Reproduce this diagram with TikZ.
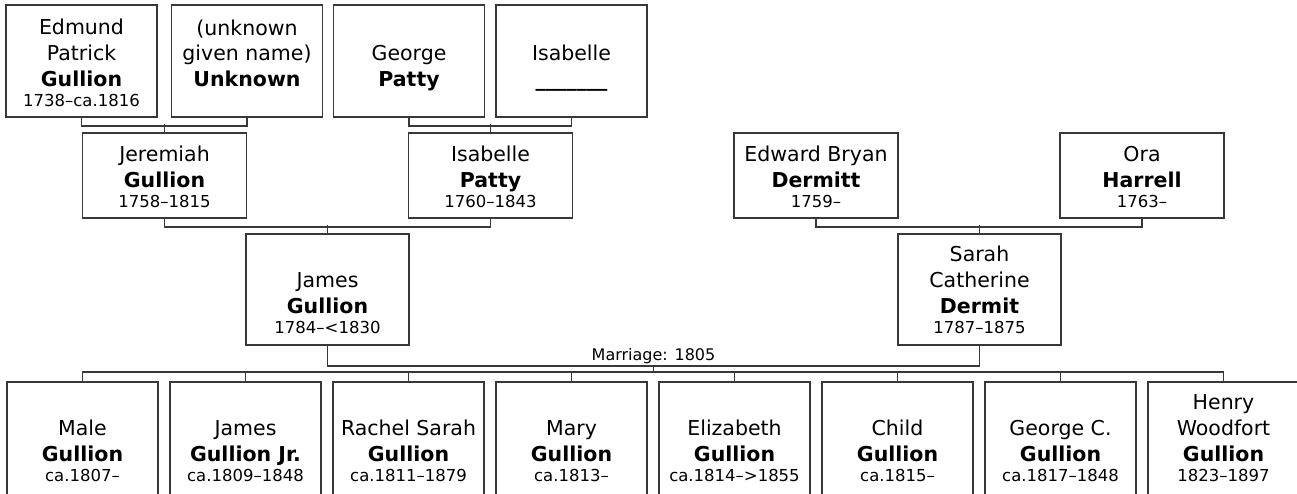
\documentclass[tikz,border=0pt]{standalone}
\usepackage{fontspec}
\setmainfont{DejaVu Sans}
\usetikzlibrary{positioning}
\newcommand{\yrs}[1]{{\fontsize{16.5}{18}\selectfont #1}}

\begin{document}
\begin{tikzpicture}[x=1pt, y=-1pt,
    box/.style={draw=black!78, line width=1.7pt, inner sep=0pt},
    elder/.style={box, minimum width=151pt, minimum height=112pt},
    parent/.style={box, minimum width=164pt, minimum height=85pt},
    couple/.style={box, minimum width=163pt, minimum height=111pt},
    child/.style={box, minimum width=151pt, minimum height=123pt},
    who/.style={align=center, inner sep=0pt, font=\fontsize{20.5}{25.8}\selectfont},
    tie/.style={draw=black!78, line width=1.7pt}]
    \useasboundingbox[fill=white] (0,0) rectangle (1297,493);

    \node[elder] (edmund) at (81.5,61) {};
    \node[who, above=11pt of edmund.south] {Edmund\\Patrick\\\textbf{Gullion}\\[-5.8pt]\yrs{1738--ca.1816}};
    \node[elder] (unknown) at (247,61) {};
    \node[who, above=11pt of unknown.south] {(unknown\\given name)\\\textbf{Unknown}\\[-5.8pt]\yrs{\phantom{1}}};
    \node[elder] (george) at (409,61) {};
    \node[who, above=11pt of george.south] {George\\\textbf{Patty}\\[-5.8pt]\yrs{\phantom{1}}};
    \node[elder] (isabelle) at (571.5,61) {};
    \node[who, above=11pt of isabelle.south] {Isabelle\\\textbf{\_\_\_\_\_\_\_}\\[-5.8pt]\yrs{\phantom{1}}};

    \node[parent] (jeremiah) at (164.5,175.5) {};
    \node[who, above=11pt of jeremiah.south] {Jeremiah\\\textbf{Gullion}\\[-5.8pt]\yrs{1758--1815}};
    \node[parent] (isabellep) at (490.5,175.5) {};
    \node[who, above=11pt of isabellep.south] {Isabelle\\\textbf{Patty}\\[-5.8pt]\yrs{1760--1843}};
    \node[parent] (edward) at (816,175.5) {};
    \node[who, above=11pt of edward.south] {Edward Bryan\\\textbf{Dermitt}\\[-5.8pt]\yrs{1759--}};
    \node[parent] (ora) at (1142,175.5) {};
    \node[who, above=11pt of ora.south] {Ora\\\textbf{Harrell}\\[-5.8pt]\yrs{1763--}};

    \node[couple] (james) at (327.5,289.5) {};
    \node[who, above=12pt of james.south] {James\\\textbf{Gullion}\\[-5.8pt]\yrs{1784--<1830}};
    \node[couple] (sarah) at (979.5,289.5) {};
    \node[who, above=12pt of sarah.south] {Sarah\\Catherine\\\textbf{Dermit}\\[-5.8pt]\yrs{1787--1875}};

    \node[child] (male) at (82.5,443.5) {};
    \node[who, above=24pt of male.south] {Male\\\textbf{Gullion}\\[-5.8pt]\yrs{ca.1807--}};
    \node[child] (jamesjr) at (245.5,443.5) {};
    \node[who, above=24pt of jamesjr.south] {James\\\textbf{Gullion Jr.}\\[-5.8pt]\yrs{ca.1809--1848}};
    \node[child] (rachel) at (408.5,443.5) {};
    \node[who, above=24pt of rachel.south] {Rachel Sarah\\\textbf{Gullion}\\[-5.8pt]\yrs{ca.1811--1879}};
    \node[child] (mary) at (571.5,443.5) {};
    \node[who, above=24pt of mary.south] {Mary\\\textbf{Gullion}\\[-5.8pt]\yrs{ca.1813--}};
    \node[child] (elizabeth) at (734.5,443.5) {};
    \node[who, above=24pt of elizabeth.south] {Elizabeth\\\textbf{Gullion}\\[-5.8pt]\yrs{ca.1814-->1855}};
    \node[child] (childg) at (897.5,443.5) {};
    \node[who, above=24pt of childg.south] {Child\\\textbf{Gullion}\\[-5.8pt]\yrs{ca.1815--}};
    \node[child] (georgec) at (1060.5,443.5) {};
    \node[who, above=24pt of georgec.south] {George C.\\\textbf{Gullion}\\[-5.8pt]\yrs{ca.1817--1848}};
    \node[child] (henry) at (1223.5,443.5) {};
    \node[who, above=24pt of henry.south] {Henry\\Woodfort\\\textbf{Gullion}\\[-5.8pt]\yrs{1823--1897}};

    \draw[tie] (edmund.south) -- ++(0,8) -| (unknown.south);
    \draw[tie] (jeremiah.north) -- ++(0,-8);
    \draw[tie] (george.south) -- ++(0,8) -| (isabelle.south);
    \draw[tie] (isabellep.north) -- ++(0,-8);
    \draw[tie] (jeremiah.south) -- ++(0,8) -| (isabellep.south);
    \draw[tie] (james.north) -- ++(0,-8);
    \draw[tie] (edward.south) -- ++(0,8) -| (ora.south);
    \draw[tie] (sarah.north) -- ++(0,-8);

    \draw[tie] (james.south) -- ++(0,20) -| (sarah.south);
    \coordinate (wed) at (653.5,365);
    \node[anchor=base, inner sep=0pt, font=\fontsize{16}{18}\selectfont] (marriage) at (653.5,360.5) {Marriage: 1805};
    \draw[tie] (wed) -- ++(0,8);
    \draw[tie] (male.north) -- ++(0,-9) -| (henry.north);
    \draw[tie] (jamesjr.north) -- ++(0,-9);
    \draw[tie] (rachel.north) -- ++(0,-9);
    \draw[tie] (mary.north) -- ++(0,-9);
    \draw[tie] (elizabeth.north) -- ++(0,-9);
    \draw[tie] (childg.north) -- ++(0,-9);
    \draw[tie] (georgec.north) -- ++(0,-9);
\end{tikzpicture}
\end{document}
